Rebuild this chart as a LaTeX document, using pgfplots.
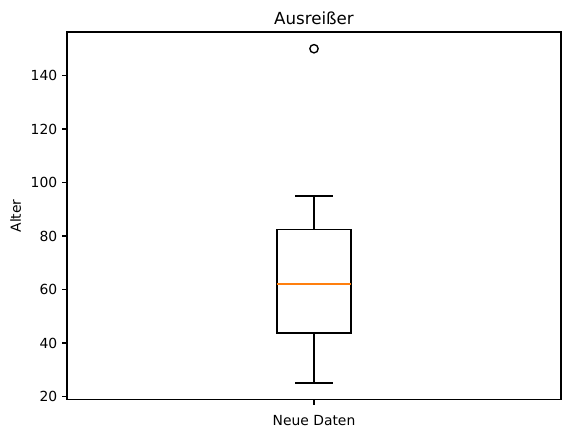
\documentclass[border=0pt]{standalone}
\usepackage{fontspec}
\setmainfont{DejaVu Sans}
\usepackage{pgfplots}
\pgfplotsset{compat=1.18}
\usepgfplotslibrary{statistics}
\definecolor{mplorange}{HTML}{FF7F0E}
\begin{document}
\begin{tikzpicture}
\begin{axis}[
  name=a,
  scale only axis,
  width=355.7pt, height=264.9pt,
  xmin=0.5, xmax=1.5, ymin=18.75, ymax=156.25,
  xtick={1}, xticklabels={Neue Daten},
  ytick={20,40,60,80,100,120,140},
  tick align=outside,
  xtick pos=bottom, ytick pos=left,
  major tick length=3.5pt,
  tick style={black, line width=0.8pt},
  axis line style={line width=0.8pt},
  /pgf/number format/assume math mode=true,
  tick label style={font=\fontsize{10}{12}\selectfont},
  xticklabel style={yshift=-4.3pt},
  title={Ausreißer},
  title style={font=\fontsize{12}{14}\selectfont, yshift=-4.6pt},
  ylabel={Alter},
  ylabel style={font=\fontsize{10}{12}\selectfont},
  boxplot/draw direction=y,
  boxplot/every median/.style={draw=mplorange, line width=1.1pt},
]
\addplot+[black, solid, line width=1pt, mark=o, mark size=3pt, mark options={black, solid, line width=1pt, fill=none},
  boxplot prepared={
    draw position=1,
    lower whisker=25,
    lower quartile=43.75,
    median=62.1,
    upper quartile=82.5,
    upper whisker=95,
    box extend=0.15,
    whisker extend=0.075,
  }] coordinates {(0,150)};
\end{axis}
\pgfresetboundingbox
\path ([shift={(-48.24pt,-25.2pt)}]a.south west) rectangle ([shift={(7.2pt,23.04pt)}]a.north east);
\end{tikzpicture}
\end{document}
